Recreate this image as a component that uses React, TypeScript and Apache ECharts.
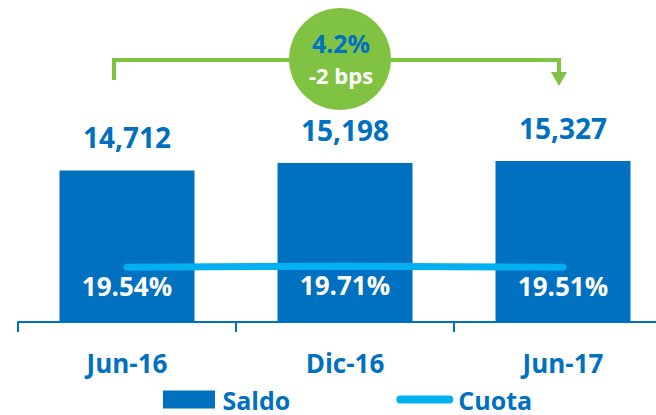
import React, { useEffect, useRef } from "react";
import * as echarts from "echarts";

const categories = ["Jun-16", "Dic-16", "Jun-17"];
const saldo = [14712, 15198, 15327];
const cuota = [19.54, 19.71, 19.51];
const growthText = "4.2%";
const bpsText = "-2 bps";

const BLUE = "#0070C0";
const LIGHT = "#00B0F0";
const GREEN = "#80C342";
const FONT = "'Open Sans', sans-serif";

export default function App() {
  const ref = useRef<HTMLDivElement>(null);
  useEffect(() => {
    if (!ref.current) return;
    const chart = echarts.init(ref.current, null, { renderer: "svg" });
    chart.setOption({
      animation: false,
      backgroundColor: "#ffffff",
      grid: { left: 18, right: -16, top: 88, bottom: 93, containLabel: false, outerBoundsMode: "none" },
      legend: {
        left: 158,
        top: 382,
        itemWidth: 57,
        itemHeight: 18,
        itemGap: 106,
        selectedMode: false,
        textStyle: { color: BLUE, fontSize: 25, lineHeight: 22, fontWeight: "bold", fontFamily: FONT },
        data: [
          { name: "Saldo", icon: "path://M0,0 H52 V18 H0 Z" },
          { name: "Cuota", icon: "path://M4,0 H53 A4,4 0 0 1 53,8 H4 A4,4 0 0 1 4,0 Z" },
        ],
      },
      xAxis: {
        type: "category",
        data: categories,
        axisLine: { lineStyle: { color: BLUE, width: 2 } },
        axisTick: { show: true, length: 10, lineStyle: { color: BLUE, width: 2 } },
        axisLabel: { color: BLUE, fontSize: 26, fontWeight: "bold", fontFamily: FONT, margin: 28 },
      },
      yAxis: [
        { type: "value", min: 5000, max: 20000, show: false, splitLine: { show: false } },
        { type: "value", min: 10.4, max: 49.4, show: false, splitLine: { show: false } },
      ],
      series: [
        {
          name: "Saldo",
          type: "bar",
          data: saldo,
          barWidth: 135,
          itemStyle: { color: BLUE },
          label: {
            show: true,
            position: "top",
            distance: 19,
            color: BLUE,
            fontSize: 28,
            fontWeight: "bold",
            fontFamily: FONT,
            formatter: (p: any) => Number(p.value).toLocaleString("en-US"),
          },
        },
        {
          name: "Cuota",
          type: "line",
          yAxisIndex: 1,
          data: cuota,
          smooth: true,
          showSymbol: true,
          symbolSize: 0,
          itemStyle: { color: LIGHT },
          lineStyle: { color: LIGHT, width: 7, cap: "round" },
          label: {
            show: true,
            position: "bottom",
            distance: 6,
            color: "#ffffff",
            fontSize: 26,
            fontWeight: "bold",
            fontFamily: FONT,
            formatter: (p: any) => Number(p.value).toFixed(2) + "%",
          },
        },
      ],
      graphic: [
        {
          type: "polyline",
          shape: { points: [[114, 80], [114, 60], [559, 60], [559, 74]] },
          style: { stroke: GREEN, lineWidth: 4, fill: null },
        },
        {
          type: "polygon",
          shape: { points: [[551, 72], [567, 72], [559, 86]] },
          style: { fill: GREEN },
        },
        {
          type: "circle",
          shape: { cx: 340, cy: 59, r: 51 },
          style: { fill: GREEN },
        },
        {
          type: "text",
          x: 341,
          y: 43,
          style: {
            text: growthText,
            fill: BLUE,
            fontSize: 25,
            fontWeight: "bold",
            fontFamily: FONT,
            align: "center",
            verticalAlign: "middle",
          },
        },
        {
          type: "text",
          x: 341,
          y: 75,
          style: {
            text: bpsText,
            fill: "#ffffff",
            fontSize: 22,
            fontWeight: "bold",
            fontFamily: FONT,
            align: "center",
            verticalAlign: "middle",
          },
        },
      ],
    });
    return () => chart.dispose();
  }, []);
  return (
    <div
      ref={ref}
      style={{ position: "fixed", left: 0, top: 0, width: 656, height: 415, background: "#fff" }}
    />
  );
}
